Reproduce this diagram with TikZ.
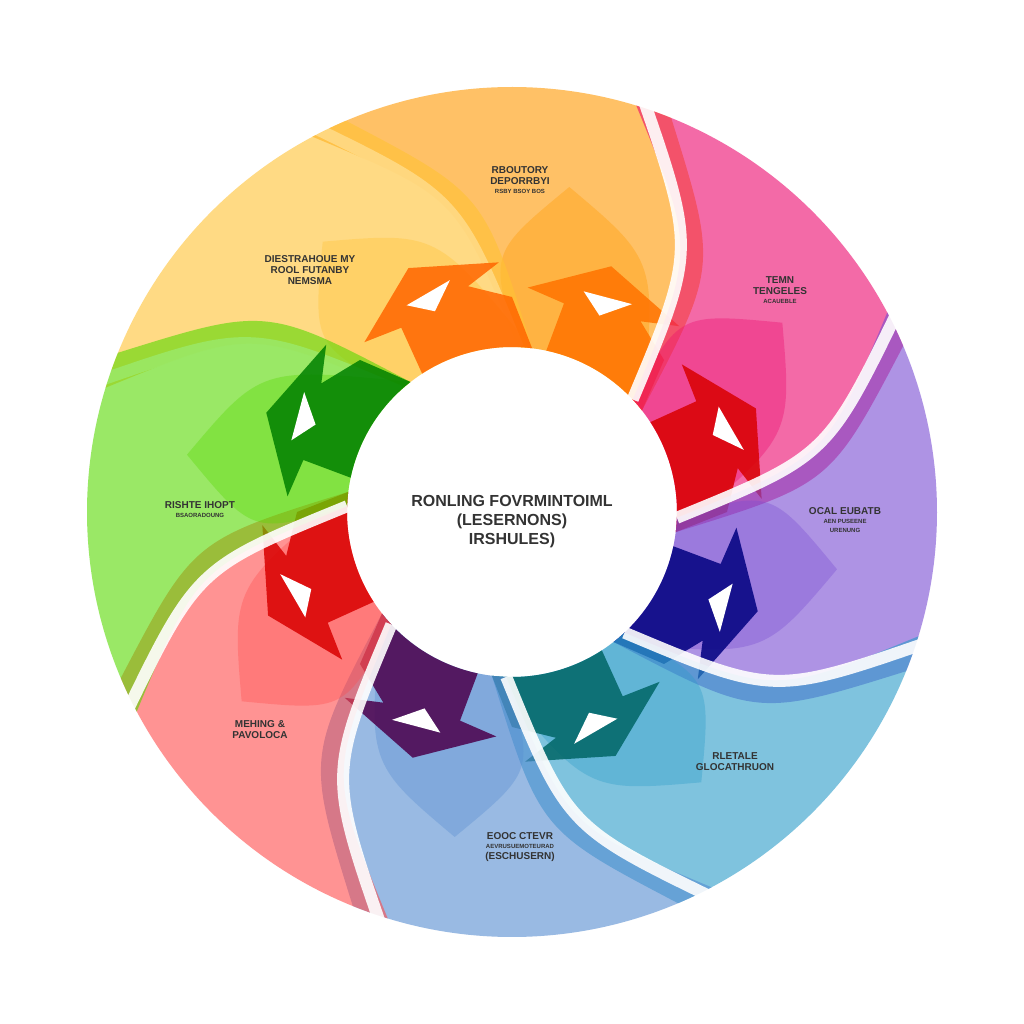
\documentclass[tikz,border=0pt]{standalone}
\usepackage{fontspec}
\setmainfont{Liberation Sans}
\begin{document}
\begin{tikzpicture}[x=1pt,y=1pt,
  lbl/.style={font=\bfseries\fontsize{10}{11}\selectfont,align=center,text=black!80}]
\fill[white] (-512,-512) rectangle (512,512);
\useasboundingbox (-512,-512) rectangle (512,512);
\newcommand\seg[3]{%
  \fill[#2,fill opacity=0.6] ({#1+28}:425) arc[start angle={#1+28},end angle={#1-22},radius=425]
    .. controls ({#1-40}:320) .. ({#1-52}:165) arc[start angle={#1-52},end angle={#1-2},radius=165]
    .. controls ({#1+10}:320) .. cycle;
  \fill[#2,fill opacity=0.35] ({#1-52}:165) arc[start angle={#1-52},end angle={#1-2},radius=165]
    .. controls ({#1+5}:260) .. ({#1-10}:330) .. controls ({#1-30}:290) .. cycle;
  \draw[white,line width=12,opacity=0.9] ({#1+28}:440) .. controls ({#1+10}:320) .. ({#1-2}:165);
  \fill[#3,fill opacity=0.85] ({#1-52}:165) arc[start angle={#1-52},end angle={#1-12},radius=165]
    -- ({#1-14}:215) -- ({#1-4}:225) -- ({#1-22}:265) -- ({#1-42}:250) -- ({#1-34}:230) -- ({#1-45}:215) -- cycle;
  \fill[white] ({#1-24}:215) -- ({#1-18}:232) -- ({#1-30}:240) -- cycle;}
\seg{90}{orange!80!yellow}{orange!90!red}
\seg{135}{orange!60!yellow!80}{orange!80!red}
\seg{45}{magenta!70!red}{red!85!black}
\seg{0}{violet!50!blue!70}{blue!50!black}
\seg{-45}{cyan!60!teal}{teal!80!black}
\seg{-90}{cyan!50!blue!70}{violet!60!black}
\seg{-135}{red!70}{red!85!black}
\seg{180}{green!60!yellow!85!black}{green!50!black}
\node[circle,fill=white,minimum size=310] (c) at (0,0) {};
\node[lbl,font=\bfseries\fontsize{16}{19}\selectfont] (ct) at (0,-10) {RONLING FOVRMINTOIML\\(LESERNONS)\\IRSHULES)};
\node[lbl] (t1) at (8,332) {RBOUTORY\\DEPORRBYI\\[-2pt]{\fontsize{6}{7}\selectfont RSBY BSOY BOS}};
\node[lbl] (t2) at (-202,242) {DIESTRAHOUE MY\\ROOL FUTANBY\\NEMSMA};
\node[lbl] (t3) at (268,222) {TEMN\\TENGELES\\[-2pt]{\fontsize{6}{7}\selectfont ACAUEBLE}};
\node[lbl] (t4) at (333,-8) {OCAL EUBATB\\[-2pt]{\fontsize{6}{7}\selectfont AEN PUSEENE}\\[-2pt]{\fontsize{6}{7}\selectfont URENUNG}};
\node[lbl] (t5) at (223,-250) {RLETALE\\GLOCATHRUON};
\node[lbl] (t6) at (8,-335) {EOOC CTEVR\\[-2pt]{\fontsize{6}{7}\selectfont AEVRUSUEMOTEURAD}\\(ESCHUSERN)};
\node[lbl] (t7) at (-252,-218) {MEHING \&\\PAVOLOCA};
\node[lbl] (t8) at (-312,2) {RISHTE IHOPT\\[-2pt]{\fontsize{6}{7}\selectfont BSAORADOUNG}};
\end{tikzpicture}
\end{document}
